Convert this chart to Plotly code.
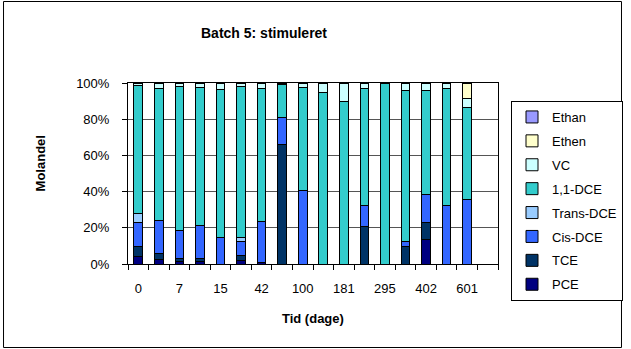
import plotly.graph_objects as go

# Category tick labels (every other bar is labelled in the original)
tick_labels = ["0", "", "7", "", "15", "", "42", "", "100", "", "181", "", "295", "", "402", "", "601"]

# Molar fractions (%) per bar, bottom to top of stack
PCE       = [4.2, 2.4, 1.5, 1.5, 0.0, 2.0, 1.0, 0.0, 0.0, 0.0, 0.0, 0.0, 0.0, 0.0, 13.8, 0.0, 0.0]
TCE       = [5.6, 3.3, 1.5, 1.6, 0.0, 2.8, 0.0, 65.9, 0.0, 0.0, 0.0, 20.8, 0.0, 9.8, 8.9, 0.0, 0.0]
Cis_DCE   = [12.9, 18.3, 15.4, 18.1, 14.4, 7.7, 22.6, 14.8, 40.5, 0.0, 0.0, 11.4, 0.0, 2.7, 15.6, 32.4, 35.9]
Trans_DCE = [5.1, 0.0, 0.0, 0.0, 0.0, 1.9, 0.0, 0.0, 0.0, 0.0, 0.0, 0.0, 0.0, 0.0, 0.0, 0.0, 0.0]
DCE_11    = [70.7, 72.9, 79.4, 76.4, 81.9, 83.4, 73.6, 18.4, 57.1, 94.8, 89.9, 65.0, 100.0, 83.5, 57.5, 64.3, 50.7]
VC        = [1.5, 3.1, 2.2, 2.4, 3.7, 2.2, 2.8, 0.9, 2.4, 5.2, 10.1, 2.8, 0.0, 4.0, 4.2, 3.3, 4.6]
Ethen     = [0.0, 0.0, 0.0, 0.0, 0.0, 0.0, 0.0, 0.0, 0.0, 0.0, 0.0, 0.0, 0.0, 0.0, 0.0, 0.0, 8.8]
Ethan     = [0.0] * 17

series_names = ["PCE", "TCE", "Cis-DCE", "Trans-DCE", "1,1-DCE", "VC", "Ethen", "Ethan"]
series_values = [PCE, TCE, Cis_DCE, Trans_DCE, DCE_11, VC, Ethen, Ethan]
series_colors = ["#000080", "#003366", "#3366FF", "#99CCFF", "#33CCCC", "#CCFFFF", "#FFFFCC", "#9999FF"]

x_pos = list(range(len(tick_labels)))

W, H = 631, 349
L, R, T, B = 128, 504, 83, 264  # plot area in pixels


def px(x):
    return (x - L) / (R - L)


def py(y):
    return (B - y) / (B - T)


FAM = "Liberation Sans, Arial, sans-serif"
font = dict(family=FAM, size=13, color="black")

fig = go.Figure()
n = len(series_names)
for i, (name, vals, col) in enumerate(zip(series_names, series_values, series_colors)):
    fig.add_trace(go.Bar(
        x=x_pos, y=[v / 100 for v in vals], name=name,
        marker=dict(color=col, line=dict(color="black", width=1)),
        width=0.42, legendgroup=name, legendrank=n - i,
    ))

fig.update_layout(
    width=W, height=H,
    margin=dict(l=L, r=W - R, t=T, b=H - B, pad=0),
    barmode="stack",
    paper_bgcolor="white", plot_bgcolor="white",
    font=font,
    showlegend=True,
    legend=dict(
        xref="container", yref="container",
        x=511 / W, y=1 - 101 / H, xanchor="left", yanchor="top",
        traceorder="grouped", tracegroupgap=4, maxheight=1,
        bordercolor="black", borderwidth=1, bgcolor="white",
        font=dict(family=FAM, size=13, color="black"),
        itemwidth=30,
    ),
    xaxis=dict(
        range=[-0.5, 17.5],
        tickmode="array",
        tickvals=[i - 0.5 for i in range(19)],
        ticktext=[""] * 19,
        ticks="outside", ticklen=5, tickcolor="black",
        showline=True, linecolor="black", linewidth=1, mirror=True,
        showgrid=False, zeroline=False,
    ),
    xaxis2=dict(
        range=[-0.5, 17.5], overlaying="x", side="bottom",
        tickmode="array", tickvals=x_pos, ticktext=tick_labels,
        ticks="", showgrid=False, showline=False, zeroline=False,
        ticklabelstandoff=15, tickfont=font,
    ),
    yaxis=dict(
        range=[0, 1], tickmode="array",
        tickvals=[0, 0.2, 0.4, 0.6, 0.8, 1.0],
        ticktext=["0%", "20%", "40%", "60%", "80%", "100%"],
        ticks="outside", ticklen=5, tickcolor="black",
        ticklabelstandoff=10, tickfont=font,
        showgrid=True, gridcolor="#555555", gridwidth=1,
        showline=True, linecolor="black", linewidth=1, mirror=True,
        zeroline=False,
    ),
    annotations=[
        dict(text="<b>Batch 5: stimuleret</b>", xref="paper", yref="paper",
             x=px(266), y=py(33), xanchor="center", yanchor="middle", showarrow=False,
             font=dict(family=FAM, size=14, color="black")),
        dict(text="<b>Molandel</b>", xref="paper", yref="paper",
             x=px(39), y=py(163), xanchor="center", yanchor="middle", showarrow=False,
             textangle=-90, font=dict(family=FAM, size=13, color="black")),
        dict(text="<b>Tid (dage)</b>", xref="paper", yref="paper",
             x=px(316), y=py(318), xanchor="center", yanchor="middle", showarrow=False,
             font=dict(family=FAM, size=13, color="black")),
    ],
    shapes=[
        dict(type="rect", xref="paper", yref="paper",
             x0=px(1.5), x1=px(629.5), y0=py(1.5), y1=py(347.5),
             line=dict(color="black", width=1), layer="above"),
    ],
)

# invisible helper trace so the label axis (xaxis2) is drawn
fig.add_trace(go.Scatter(x=[0], y=[0], xaxis="x2", mode="markers",
                         marker=dict(opacity=0), showlegend=False, hoverinfo="skip"))

fig.write_html(
    "out.html",
    config={"displayModeBar": False},
    post_script="document.body.style.margin='0';document.body.style.overflow='hidden';",
)
